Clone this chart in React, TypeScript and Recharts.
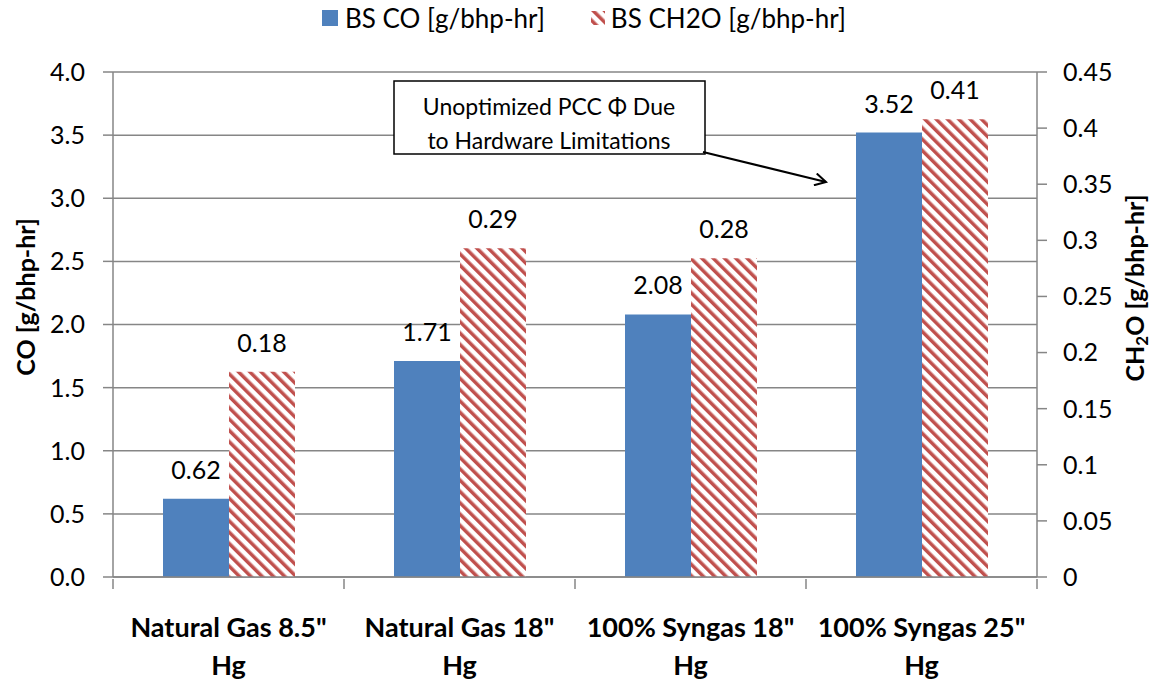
import React from 'react';
import {
  BarChart, Bar, XAxis, YAxis, CartesianGrid, Legend, LabelList, Customized
} from 'recharts';

const categories = ['Natural Gas 8.5" Hg', 'Natural Gas 18" Hg', '100% Syngas 18" Hg', '100% Syngas 25" Hg'];
const coValues = [0.62, 1.71, 2.08, 3.52];
const ch2oValues = [0.183, 0.293, 0.284, 0.408];
const leftTicks = [0, 0.5, 1, 1.5, 2, 2.5, 3, 3.5, 4];
const rightTicks = [0, 0.05, 0.1, 0.15, 0.2, 0.25, 0.3, 0.35, 0.4, 0.45];

const data = categories.map((c, i) => ({ name: c, co: coValues[i], ch2o: ch2oValues[i] }));

const FONT = 'Lato, "Open Sans", sans-serif';
const BLUE = '#4F81BD';
const RED = '#C0504D';
const GRAY = '#868686';

const CategoryTick = (props: any) => {
  const { x, y, payload, index } = props;
  const half = payload?.offset || 115.5;
  const words = String(payload.value);
  const cut = words.lastIndexOf(' ');
  const l1 = words.slice(0, cut);
  const l2 = words.slice(cut + 1);
  return (
    <g>
      <line x1={x - half} x2={x - half} y1={y} y2={y + 10} stroke={GRAY} strokeWidth={1.5} />
      {index === categories.length - 1 && (
        <line x1={x + half} x2={x + half} y1={y} y2={y + 10} stroke={GRAY} strokeWidth={1.5} />
      )}
      <text x={x} y={y + 58} textAnchor="middle" fontFamily={FONT} fontWeight="bold" fontSize={27} fill="#000">{l1}</text>
      <text x={x} y={y + 96} textAnchor="middle" fontFamily={FONT} fontWeight="bold" fontSize={27} fill="#000">{l2}</text>
    </g>
  );
};

const LegendContent = () => (
  <div style={{ display: 'flex', justifyContent: 'center', alignItems: 'center', fontFamily: FONT, fontSize: 26, color: '#000', height: 36, paddingLeft: 8 }}>
    <span style={{ display: 'flex', alignItems: 'center', marginRight: 46 }}>
      <svg width={16} height={16} style={{ marginRight: 7 }}><rect width={16} height={16} fill={BLUE} /></svg>
      BS CO [g/bhp-hr]
    </span>
    <span style={{ display: 'flex', alignItems: 'center' }}>
      <svg width={14} height={14} style={{ marginRight: 6 }}>
        <defs>
          <pattern id="legStripe" patternUnits="userSpaceOnUse" width={8} height={8} patternTransform="rotate(-45)">
            <rect width={8} height={8} fill="#fff" />
            <rect width={3.5} height={8} fill={RED} />
          </pattern>
        </defs>
        <rect width={14} height={14} fill="url(#legStripe)" />
      </svg>
      BS CH2O [g/bhp-hr]
    </span>
  </div>
);

const Annotation = () => (
  <g>
    <defs>
      <marker id="arrowOpen" markerWidth={14} markerHeight={14} refX={12} refY={7} orient="auto" markerUnits="userSpaceOnUse">
        <path d="M1,1 L12,7 L1,13" fill="none" stroke="#000" strokeWidth={2} />
      </marker>
    </defs>
    <rect x={394} y={81} width={311} height={73} fill="#fff" stroke="#000" strokeWidth={1.5} />
    <text x={549} y={115} textAnchor="middle" fontFamily={FONT} fontSize={23} fill="#000">Unoptimized PCC Φ Due</text>
    <text x={549} y={149} textAnchor="middle" fontFamily={FONT} fontSize={23} fill="#000">to Hardware Limitations</text>
    <line x1={703} y1={152} x2={826} y2={182} stroke="#000" strokeWidth={2} markerEnd="url(#arrowOpen)" />
  </g>
);

const LeftTitle = () => {
  const cx = 25;
  const cy = 297;
  return (
    <text x={cx} y={cy} transform={`rotate(-90, ${cx}, ${cy})`} textAnchor="middle" dominantBaseline="central"
      fontFamily={FONT} fontWeight="bold" fontSize={25} fill="#000">CO [g/bhp-hr]</text>
  );
};

const RightTitle = () => {
  const cx = 1134;
  const cy = 288;
  return (
    <text x={cx} y={cy} transform={`rotate(-90, ${cx}, ${cy})`} textAnchor="middle" dominantBaseline="central"
      fontFamily={FONT} fontWeight="bold" fontSize={25} fill="#000">
      <tspan>CH</tspan>
      <tspan dy={7} fontSize={17}>2</tspan>
      <tspan dy={-7}>O [g/bhp-hr]</tspan>
    </text>
  );
};

export default function App() {
  return (
    <div style={{ position: 'absolute', left: 0, top: 0, width: 1160, height: 681, background: '#fff' }}>
      <BarChart width={1160} height={681} data={data} margin={{ top: 32, right: 0, left: 0, bottom: 0 }} barGap={0} barSize={66}>
        <defs>
          <pattern id="barStripe" patternUnits="userSpaceOnUse" width={8} height={8} patternTransform="rotate(-45)">
            <rect width={8} height={8} fill="#fff" />
            <rect width={3.5} height={8} fill={RED} />
          </pattern>
        </defs>
        <CartesianGrid yAxisId="left" vertical={false} stroke={GRAY} strokeWidth={1.5} />
        <Legend verticalAlign="top" height={40} content={<LegendContent />} wrapperStyle={{ top: 0, left: 0, width: 1160 }} />
        <XAxis dataKey="name" height={104} axisLine={{ stroke: GRAY, strokeWidth: 1.5 }} tickLine={false} tickSize={0} tick={<CategoryTick />} interval={0} />
        <YAxis yAxisId="left" width={113} domain={[0, 4]} ticks={leftTicks} allowDataOverflow
          tickFormatter={(v: number) => v.toFixed(1)} axisLine={{ stroke: GRAY, strokeWidth: 1.5 }}
          tickLine={{ stroke: GRAY, strokeWidth: 1.5 }} tickSize={10} tickMargin={18}
          tick={{ fill: '#000', fontSize: 25, fontFamily: FONT }} label={<LeftTitle />} />
        <YAxis yAxisId="right" orientation="right" width={123} domain={[0, 0.45]} ticks={rightTicks} allowDataOverflow
          tickFormatter={(v: number) => String(parseFloat(v.toFixed(2)))} axisLine={{ stroke: GRAY, strokeWidth: 1.5 }}
          tickLine={{ stroke: GRAY, strokeWidth: 1.5 }} tickSize={10} tickMargin={16}
          tick={{ fill: '#000', fontSize: 25, fontFamily: FONT, textAnchor: 'start' }} label={<RightTitle />} />
        <Bar yAxisId="left" dataKey="co" name="BS CO [g/bhp-hr]" fill={BLUE} isAnimationActive={false}>
          <LabelList dataKey="co" position="top" offset={20} formatter={(v: number) => v.toFixed(2)}
            style={{ fontSize: 25, fontFamily: FONT, fill: '#000' }} />
        </Bar>
        <Bar yAxisId="right" dataKey="ch2o" name="BS CH2O [g/bhp-hr]" fill="url(#barStripe)" isAnimationActive={false}>
          <LabelList dataKey="ch2o" position="top" offset={20} formatter={(v: number) => v.toFixed(2)}
            style={{ fontSize: 25, fontFamily: FONT, fill: '#000' }} />
        </Bar>
        <Customized component={<Annotation />} />
      </BarChart>
    </div>
  );
}
